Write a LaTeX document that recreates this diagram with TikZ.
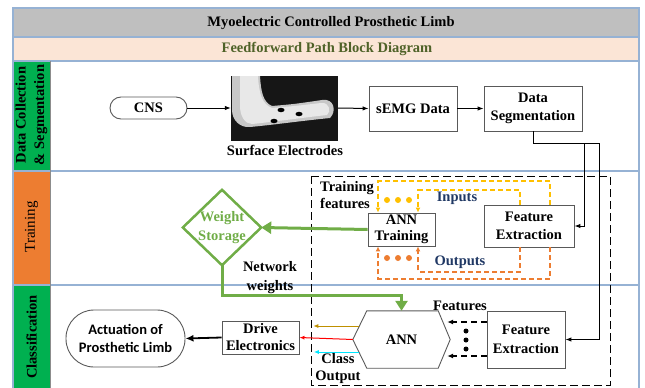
\documentclass[tikz,border=0pt]{standalone}
\usepackage{fontspec}
\setmainfont{Liberation Serif}
\newfontfamily\calib{Carlito}
\usetikzlibrary{arrows.meta,calc}
\definecolor{lanegreen}{RGB}{0,176,80}
\definecolor{laneorange}{RGB}{237,125,49}
\definecolor{framecol}{RGB}{150,178,212}
\definecolor{titlegray}{RGB}{191,191,191}
\definecolor{peach}{RGB}{251,229,214}
\definecolor{olive}{RGB}{79,98,40}
\definecolor{wsgreen}{RGB}{112,173,71}
\definecolor{ylw}{RGB}{255,192,0}
\definecolor{org}{RGB}{237,125,49}
\definecolor{navyc}{RGB}{32,56,100}
\definecolor{goldc}{RGB}{191,144,0}
\definecolor{cyanc}{RGB}{0,230,255}
\definecolor{armlight}{RGB}{232,232,232}
\definecolor{armmid}{RGB}{200,200,200}
\begin{document}
\begin{tikzpicture}[x=1pt,y=-1pt,
  font=\fontsize{14.5}{18.5}\selectfont\bfseries,
  box/.style={draw=black!65, line width=0.9pt, fill=white, align=center, inner sep=0pt},
  lbl/.style={align=center, inner sep=0pt},
  conn/.style={line width=1pt, -{Latex[length=6pt,width=4.5pt]}},
  ydash/.style={draw=ylw, line width=1.8pt, dash pattern=on 5pt off 3pt, -{Latex[length=5pt,width=5pt]}},
  odash/.style={draw=org, line width=1.8pt, dash pattern=on 5pt off 3pt, -{Latex[length=5pt,width=5pt]}},
  fdash/.style={line width=1.3pt, dash pattern=on 6pt off 4pt, -{Latex[length=6pt,width=5pt]}},
  garrow/.style={draw=wsgreen, line width=3pt, -{Triangle[length=10pt,width=12pt]}},
  thinarrow/.style={line width=1pt, -{Latex[length=5pt,width=4pt]}}
]
\useasboundingbox (0,0) rectangle (645,388);
% backgrounds
\fill[titlegray] (13,8) rectangle (639,37);
\fill[peach] (13,37) rectangle (639,61);
\fill[lanegreen] (13,61) rectangle (50,171);
\fill[laneorange] (13,171) rectangle (50,285);
\fill[lanegreen] (13,285) rectangle (50,395);
\draw[framecol, line width=1.2pt] (13,8) rectangle (639,395);
\draw[framecol, line width=1.2pt] (13,37) -- (639,37) (13,61) -- (639,61) (13,171) -- (639,171) (13,285) -- (639,285);
\draw[black!45, line width=0.8pt] (50,61) -- (50,395);
% titles
\node[lbl] (title) at (331,23) {Myoelectric Controlled Prosthetic Limb};
\node[lbl, text=olive] (sub) at (327,49) {Feedforward Path Block Diagram};
% lane labels
\node[lbl, rotate=90] (l1) at (31.5,115) {Data Collection\\\& Segmentation};
\node[lbl, rotate=90, font=\fontsize{15}{18.5}\selectfont\mdseries] (l2) at (31.5,227) {Training};
\node[lbl, rotate=90] (l3) at (31.5,337) {Classification};
% lane 1
\node[box, rounded corners=11pt, minimum width=77pt, minimum height=22pt] (cns) at (148.5,108) {CNS};
\node[fill={rgb,255:red,22;green,22;blue,22}, minimum width=107pt, minimum height=65pt, inner sep=0pt] (photo) at (284.5,108) {};
\fill[armmid]
  (232,76) -- (260,76) .. controls (261,92) and (263,102) .. (272,106)
  .. controls (295,104) .. (322,100) .. controls (334,98) and (337,111) .. (330,118)
  .. controls (300,121) and (272,125) .. (250,127) .. controls (240,128) and (232,120) .. (232,110) -- cycle;
\fill[armlight]
  (240,76) -- (258,76) .. controls (259,94) and (262,104) .. (272,108)
  .. controls (295,106) .. (321,103) .. controls (330,102) and (331,112) .. (327,115)
  .. controls (300,118) and (272,122) .. (252,124) .. controls (245,124) and (240,116) .. (240,106) -- cycle;
\fill[black] (281,110) ellipse (3.5pt and 2.2pt);
\fill[black] (299,114) ellipse (3.5pt and 2.2pt);
\fill[black] (274,121) ellipse (3.5pt and 2.2pt);
\node[lbl] (selab) at (285,150) {Surface Electrodes};
\node[box, minimum width=88pt, minimum height=45pt] (semg) at (413,108.5) {sEMG Data};
\node[box, minimum width=98pt, minimum height=45pt] (dseg) at (533,108.5) {Data\\Segmentation};
\draw[conn] (cns.east) -- (photo.west);
\draw[conn] (photo.east) -- (semg.west);
\draw[conn] (semg.east) -- (dseg.west);
% dashed region
\draw[line width=1pt, dash pattern=on 8pt off 4pt] (311,176) rectangle (610,385);
% lane 2
\node[box, minimum width=90pt, minimum height=42pt] (fe1) at (529,226) {Feature\\Extraction};
\node[box, minimum width=67pt, minimum height=33pt, font=\fontsize{14.5}{16}\selectfont\bfseries] (anntr) at (401.5,229.5) {ANN\\Training};
\node[minimum width=78pt, minimum height=75pt, inner sep=0pt, text=wsgreen, align=center] (ws) at (222,227.5) {Weight\\Storage};
\draw[wsgreen, line width=2.5pt, line join=miter] (ws.north) -- (ws.east) -- (ws.south) -- (ws.west) -- cycle;
\draw[garrow] (anntr.west) -- (ws.east);
\node[lbl, align=left, anchor=west, font=\fontsize{14.5}{17}\selectfont\bfseries] (tf) at (320,195.5) {Training\\features};
\draw[ydash] ($(fe1.north)+(21,0)$) -- ++(0,-23.5) -| ($(anntr.north)+(-23.5,0)$);
\draw[ydash] ($(fe1.north)+(-9,0)$) -- ++(0,-14.5) -| ($(anntr.north)+(16.5,0)$);
\draw[odash] ($(fe1.south)+(21,0)$) -- ++(0,31.5) -| ($(anntr.south)+(-23.5,0)$);
\draw[odash] ($(fe1.south)+(-9,0)$) -- ++(0,24.5) -| ($(anntr.south)+(16.5,0)$);
\foreach \xx in {387,398,409} {
  \fill[ylw] (\xx,200) circle (3pt);
  \fill[org] (\xx,258) circle (3pt);
}
\node[lbl, text=navyc] (inp) at (457,198) {Inputs};
\node[lbl, text=navyc] (outp) at (460,262) {Outputs};
\node[lbl, font=\fontsize{14.5}{19}\selectfont\bfseries] (nw) at (270,277.5) {Network\\weights};
% lane 3
\node[minimum width=97pt, minimum height=57pt, inner sep=0pt] (ann) at (401.5,339.5) {ANN};
\draw[black!65, line width=0.9pt] (ann.west) -- ($(ann.north west)+(14,0)$) -- ($(ann.north east)+(-12,0)$) -- (ann.east) -- ($(ann.south east)+(-12,0)$) -- ($(ann.south west)+(14,0)$) -- cycle;
\node[box, minimum width=78pt, minimum height=57pt] (fe2) at (526,339.5) {Feature\\Extraction};
\node[box, minimum width=77pt, minimum height=33pt, font=\fontsize{14.5}{17}\selectfont\bfseries] (drive) at (260.5,337.5) {Drive\\Electronics};
\node[box, rounded corners=28pt, minimum width=119pt, minimum height=57pt, font=\calib\fontsize{14.5}{18}\selectfont\bfseries] (act) at (125.5,338.5) {Actuation of\\Prosthetic Limb};
\draw[garrow] (ws.south) -- ++(0,30) -| (ann.north);
\draw[line width=1.8pt, -{Latex[length=8pt,width=7pt]}] (drive.west) -- (act.east);
\draw[thinarrow, goldc] ($(ann.west)+(6.5,-13.5)$) -- ++(-46,0);
\draw[thinarrow, red] (ann.west) -- (drive.east);
\draw[thinarrow, cyanc] ($(ann.west)+(6,12.5)$) -- ++(-45,0);
\node[lbl, font=\fontsize{14.5}{17}\selectfont\bfseries] (co) at (338,368.5) {Class\\Output};
\node[lbl] (featl) at (460,306) {Features};
\draw[fdash] ($(fe2.west)+(0,-17.5)$) -- ($(ann.east)+(-3,-17.5)$);
\draw[fdash] ($(fe2.west)+(0,16.5)$) -- ($(ann.east)+(-3,16.5)$);
\foreach \yy in {331,340,349} { \fill[black] (466,\yy) circle (2.5pt); }
% data segmentation connectors
\coordinate (j1) at (599,143);
\coordinate (j2) at (584,143);
\draw[conn] (dseg.south) |- (j1) |- (fe2.east);
\draw[conn] (j2) |- (fe1.east);
\end{tikzpicture}
\end{document}
